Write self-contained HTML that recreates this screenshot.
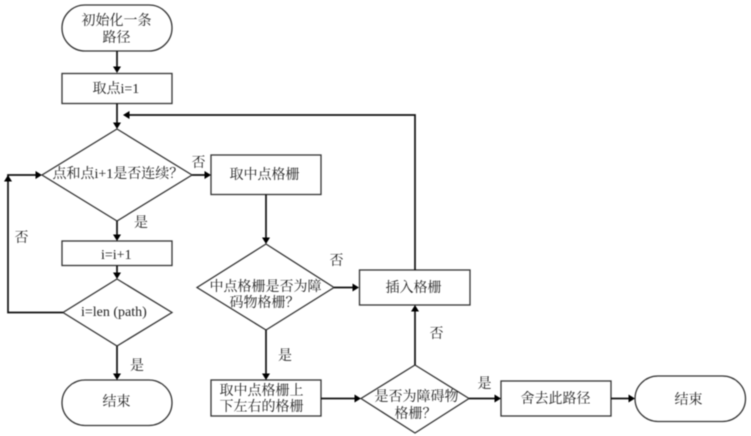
<!DOCTYPE html>
<html><head><meta charset="utf-8"><style>
html,body{margin:0;padding:0;background:#fff;width:751px;height:436px;overflow:hidden}
svg{display:block;filter:blur(.45px)}
text{font-family:"Liberation Serif","Noto Serif CJK SC",serif;font-size:14px;fill:#222;text-anchor:start}
.s{fill:#fff;stroke:#333;stroke-width:1.3}
.l{fill:none;stroke:#111;stroke-width:1.7}
.a{fill:#000}
</style></head><body>
<svg width="751" height="436" viewBox="0 0 751 436" xmlns="http://www.w3.org/2000/svg">
<rect class="s" x="62" y="5" width="110" height="46" rx="23"/>
<rect class="s" x="62" y="73.500" width="110" height="30"/>
<polygon class="s" points="117,129 192,175 117,221 42,175"/>
<rect class="s" x="211" y="155" width="110" height="39.500"/>
<rect class="s" x="62" y="241" width="110" height="24.500"/>
<polygon class="s" points="117,279 172,312.500 117,346 63,312.500"/>
<rect class="s" x="62" y="380" width="110" height="45.500" rx="23"/>
<polygon class="s" points="266,244 334,287.500 266,330 197,287.500"/>
<rect class="s" x="359.500" y="270" width="110.500" height="35"/>
<rect class="s" x="211" y="380" width="110" height="36"/>
<polygon class="s" points="415,365 469,398.500 415,433 361,398.500"/>
<rect class="s" x="501" y="381" width="110" height="35"/>
<rect class="s" x="635" y="376" width="110.500" height="45.500" rx="23"/>

<path class="l" d="M117,51V68M117,103.500V124M117,221V236M117,265.500V274M117,346V375"/>
<path class="l" d="M192,175H206M266,194.500V239M334,287.500H354M266,330V375M321,398.500H356M469,398.500H496M611,398.500H630"/>
<path class="l" d="M415,365V310M415,270V115H128"/>
<path class="l" d="M63,312.500H8V175H37"/>

<path class="a" d="M113,66.500H121L117,73Z"/>
<path class="a" d="M113,122.500H121L117,129Z"/>
<path class="a" d="M113,234.500H121L117,241Z"/>
<path class="a" d="M113,272.500H121L117,279Z"/>
<path class="a" d="M113,373.500H121L117,380Z"/>
<path class="a" d="M204.500,171V179L211,175Z"/>
<path class="a" d="M262,237.500H270L266,244Z"/>
<path class="a" d="M352.500,283.500V291.500L359,287.500Z"/>
<path class="a" d="M262,373.500H270L266,380Z"/>
<path class="a" d="M354.500,394.500V402.500L361,398.500Z"/>
<path class="a" d="M494.500,394.500V402.500L501,398.500Z"/>
<path class="a" d="M628.500,394.500V402.500L635,398.500Z"/>
<path class="a" d="M411,311.500H419L415,305Z"/>
<path class="a" d="M129.500,111V119L123,115Z"/>
<path class="a" d="M4,181.500H12L8,175Z"/>
<path class="a" d="M35.500,171V179L42,175Z"/>

<text x="81.500" y="25">初始化一条</text>
<text x="102.500" y="42">路径</text>
<text x="92.500" y="93">取点i=1</text>
<text x="52.500" y="178">点和点i+1是否连续？</text>
<text x="229.500" y="179">取中点格栅</text>
<text x="101" y="259">i=i+1</text>
<text x="81" y="316">i=len (path)</text>
<text x="102.500" y="406">结束</text>
<text x="209.500" y="291">中点格栅是否为障</text>
<text x="229.500" y="307">码物格栅？</text>
<text x="385.500" y="292">插入格栅</text>
<text x="219.500" y="395">取中点格栅上</text>
<text x="219.500" y="411">下左右的格栅</text>
<text x="374.500" y="401">是否为障碍物</text>
<text x="394.500" y="418">格栅？</text>
<text x="520.500" y="403">舍去此路径</text>
<text x="674.500" y="404">结束</text>

<text x="191.500" y="167">否</text>
<text x="134" y="227">是</text>
<text x="14.500" y="242">否</text>
<text x="130" y="370">是</text>
<text x="329.500" y="265">否</text>
<text x="278" y="360">是</text>
<text x="429.500" y="338">否</text>
<text x="477.500" y="388">是</text>
</svg>
</body></html>
